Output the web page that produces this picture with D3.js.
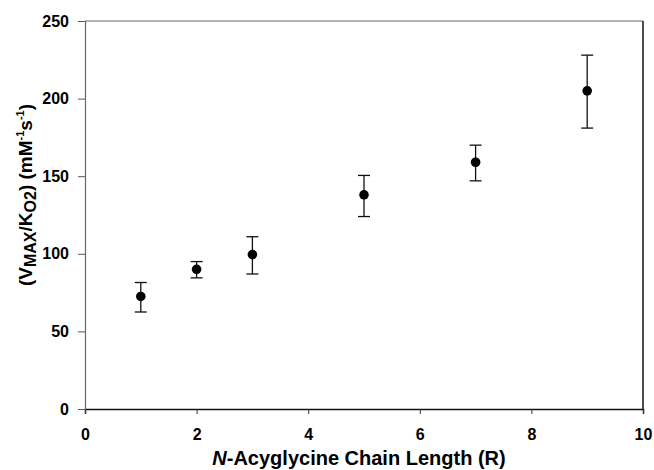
<!DOCTYPE html>
<html><head><meta charset="utf-8">
<script src="https://cdn.jsdelivr.net/npm/d3@7"></script>
<style>body{margin:0;background:#fff}svg text{font-family:"Liberation Sans",Arial,sans-serif;font-weight:bold}</style>
</head><body>
<svg id="c" width="654" height="470"></svg>
<script>
const chainLength = [1, 2, 3, 5, 7, 9];
const ratio = [72.5, 90, 99.5, 138, 159, 205];
const errUpper = [81.5, 95, 111, 150.5, 170, 228];
const errLower = [62.5, 84.5, 87, 124, 147, 181];
const xTicks = [0, 2, 4, 6, 8, 10];
const yTicks = [0, 50, 100, 150, 200, 250];

const svg = d3.select("#c");
const L = 85, R = 643, T = 21, B = 409;
const x = d3.scaleLinear().domain([0, 10]).range([L, R]);
const y = d3.scaleLinear().domain([0, 250]).range([B, T]);

svg.append("g").attr("transform", `translate(0,${B})`)
  .call(d3.axisBottom(x).tickValues(xTicks).tickSize(5).tickPadding(15))
  .call(g => g.selectAll("text").attr("font-size", 16).attr("fill", "#000"))
  .call(g => g.select(".domain").attr("stroke", "#111").attr("stroke-width", 1.5))
  .call(g => g.selectAll(".tick line").attr("stroke", "#333"));
svg.append("g").attr("transform", `translate(${L},0)`)
  .call(d3.axisLeft(y).tickValues(yTicks).tickSize(7).tickPadding(9))
  .call(g => g.selectAll("text").attr("font-size", 16).attr("fill", "#000"))
  .call(g => g.select(".domain").attr("stroke", "#666").attr("stroke-width", 1.2))
  .call(g => g.selectAll(".tick line").attr("stroke", "#555"));
svg.append("line").attr("x1", L).attr("x2", R).attr("y1", T).attr("y2", T).attr("stroke", "#666").attr("stroke-width", 1.2);
svg.append("line").attr("x1", R).attr("x2", R).attr("y1", T).attr("y2", B).attr("stroke", "#111").attr("stroke-width", 1.5);

const cap = 6;
const eb = svg.append("g").attr("stroke", "#111").attr("stroke-width", 1.3);
chainLength.forEach((c, i) => {
  eb.append("line").attr("x1", x(c)).attr("x2", x(c)).attr("y1", y(errUpper[i])).attr("y2", y(errLower[i]));
  eb.append("line").attr("x1", x(c) - cap).attr("x2", x(c) + cap).attr("y1", y(errUpper[i])).attr("y2", y(errUpper[i]));
  eb.append("line").attr("x1", x(c) - cap).attr("x2", x(c) + cap).attr("y1", y(errLower[i])).attr("y2", y(errLower[i]));
});
svg.append("g").selectAll("circle").data(chainLength).join("circle")
  .attr("cx", d => x(d)).attr("cy", (d, i) => y(ratio[i])).attr("r", 4.8).attr("fill", "#000");

const xt = svg.append("text").attr("x", 359).attr("y", 465).attr("text-anchor", "middle").attr("font-size", 20);
xt.append("tspan").attr("font-style", "italic").text("N");
xt.append("tspan").text("-Acyglycine Chain Length (R)");

const yt = svg.append("text").attr("transform", "translate(32,195) rotate(-90)").attr("text-anchor", "middle").attr("font-size", 19);
yt.append("tspan").text("(V");
yt.append("tspan").attr("font-size", 16).attr("dy", 4).text("MAX");
yt.append("tspan").attr("dy", -4).text("/K");
yt.append("tspan").attr("font-size", 16).attr("dy", 4).text("O2");
yt.append("tspan").attr("dy", -4).text(") (mM");
yt.append("tspan").attr("font-size", 11).attr("dy", -8).text("-1");
yt.append("tspan").attr("dy", 8).text("s");
yt.append("tspan").attr("font-size", 11).attr("dy", -8).text("-1");
yt.append("tspan").attr("dy", 8).text(")");
</script>
</body></html>
